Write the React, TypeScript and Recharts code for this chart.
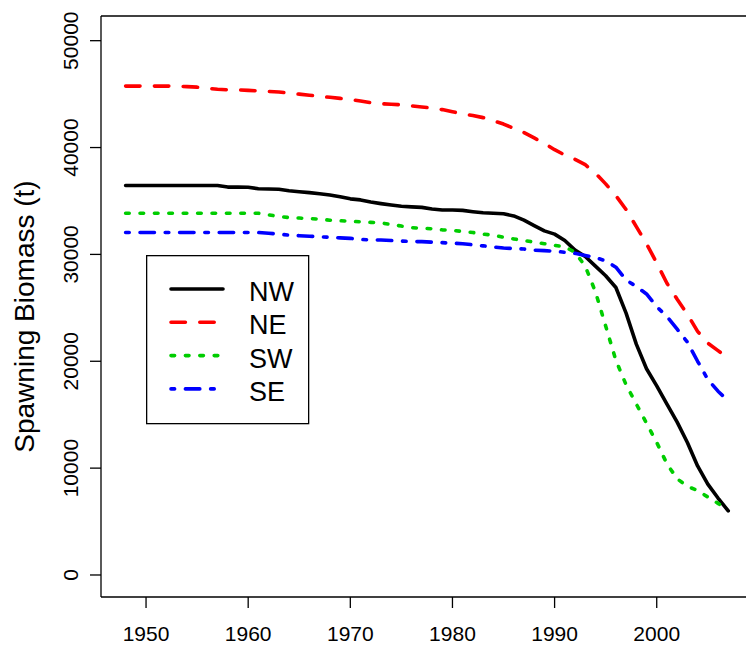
import { LineChart, Line, XAxis, YAxis, ReferenceLine, Legend } from "recharts";

const years = [
  1948, 1949, 1950, 1951, 1952, 1953, 1954, 1955, 1956, 1957, 1958, 1959,
  1960, 1961, 1962, 1963, 1964, 1965, 1966, 1967, 1968, 1969, 1970, 1971,
  1972, 1973, 1974, 1975, 1976, 1977, 1978, 1979, 1980, 1981, 1982, 1983,
  1984, 1985, 1986, 1987, 1988, 1989, 1990, 1991, 1992, 1993, 1994, 1995,
  1996, 1997, 1998, 1999, 2000, 2001, 2002, 2003, 2004, 2005, 2006, 2007,
];

const nw = [
  36450, 36450, 36450, 36450, 36450, 36450, 36450, 36450, 36450, 36450, 36300, 36300,
  36280, 36150, 36120, 36100, 35950, 35870, 35780, 35680, 35560, 35400, 35200, 35100,
  34900, 34750, 34620, 34500, 34450, 34400, 34250, 34150, 34150, 34120, 34000, 33900,
  33850, 33800, 33600, 33200, 32700, 32200, 31900, 31300, 30400, 29800, 28900, 28000,
  26900, 24500, 21600, 19300, 17700, 16000, 14300, 12400, 10200, 8500, 7200, 6000,
];

const ne = [
  45750, 45750, 45750, 45750, 45750, 45750, 45700, 45650, 45550, 45450, 45400, 45400,
  45350, 45300, 45250, 45200, 45100, 45000, 44900, 44800, 44700, 44600, 44500, 44350,
  44200, 44100, 44050, 44000, 43900, 43800, 43700, 43550, 43350, 43150, 43000, 42800,
  42500, 42200, 41800, 41400, 40900, 40400, 39800, 39300, 38900, 38400, 37600, 36600,
  35500, 34200, 32600, 31000, 29200, 27300, 25800, 24400, 22800, 21700, 21000, 20300,
];

const sw = [
  33850, 33850, 33850, 33850, 33850, 33850, 33850, 33850, 33850, 33850, 33850, 33850,
  33850, 33850, 33700, 33550, 33450, 33400, 33350, 33300, 33200, 33150, 33100, 33050,
  33000, 32950, 32800, 32650, 32500, 32450, 32400, 32300, 32250, 32150, 32050, 31900,
  31800, 31600, 31450, 31300, 31150, 31000, 30850, 30700, 30200, 28900, 26500, 23300,
  20100, 17800, 16000, 14200, 12400, 10400, 9000, 8300, 7900, 7300, 6700, 6100,
];

const se = [
  32050, 32050, 32050, 32050, 32050, 32050, 32050, 32050, 32050, 32050, 32050, 32050,
  32050, 32050, 31980, 31900, 31800, 31750, 31700, 31650, 31600, 31550, 31500, 31400,
  31350, 31350, 31300, 31250, 31200, 31200, 31150, 31100, 31050, 31000, 30900, 30800,
  30700, 30600, 30550, 30500, 30400, 30350, 30300, 30200, 30100, 29900, 29700, 29400,
  28800, 27600, 27000, 26300, 25100, 24200, 23000, 21800, 20000, 18300, 17200, 16300,
];

const xTicks = [1950, 1960, 1970, 1980, 1990, 2000];
const yTicks = [0, 10000, 20000, 30000, 40000, 50000];

const series = [
  { key: "NW", color: "#000000", dash: undefined },
  { key: "NE", color: "#FF0000", dash: "14.4 14.4" },
  { key: "SW", color: "#00CD00", dash: "3.6 10.8" },
  { key: "SE", color: "#0000FF", dash: "3.6 10.8 14.4 10.8" },
];

const data = years.map((year, i) => ({
  year,
  NW: nw[i],
  NE: ne[i],
  SW: sw[i],
  SE: se[i],
}));

const FONT = "'Liberation Sans', Arial, Helvetica, sans-serif";
const X_DOMAIN = [1945.59, 2008.74];
const Y_DOMAIN = [-2060, 52310];

const XTick = ({ x, y, payload }: any) => (
  <text x={x} y={y + 31} textAnchor="middle" fontSize={21} fontFamily={FONT} fill="#000">
    {payload.value}
  </text>
);

const YTick = ({ x, y, payload }: any) => (
  <text
    x={x - 10}
    y={y}
    transform={`rotate(-90, ${x - 10}, ${y})`}
    textAnchor="middle"
    fontSize={21}
    fontFamily={FONT}
    fill="#000"
  >
    {payload.value}
  </text>
);

const YLabel = ({ viewBox }: any) => {
  const cx = 33.5;
  const cy = viewBox.y + viewBox.height / 2 + 10;
  return (
    <text
      x={cx}
      y={cy}
      transform={`rotate(-90, ${cx}, ${cy})`}
      textAnchor="middle"
      fontSize={28}
      fontFamily={FONT}
      fill="#000"
    >
      Spawning Biomass (t)
    </text>
  );
};

const LegendBox = () => (
  <svg width={164} height={170} style={{ display: "block" }}>
    <rect x={0.65} y={0.65} width={162} height={168} fill="#fff" stroke="#000" strokeWidth={1.3} />
    {series.map((s, i) => {
      const ly = 34 + i * 33.3;
      return (
        <g key={s.key}>
          <line
            x1={25}
            x2={77}
            y1={ly}
            y2={ly}
            stroke={s.color}
            strokeWidth={3.6}
            strokeDasharray={s.dash}
            strokeLinecap="round"
          />
          <text x={103} y={ly + 12} fontSize={27} fontFamily={FONT} fill="#000">
            {s.key}
          </text>
        </g>
      );
    })}
  </svg>
);

export default function App() {
  return (
    <div style={{ position: "absolute", left: 0, top: 0, width: 746, height: 648, background: "#fff" }}>
      <LineChart
        width={746}
        height={648}
        data={data}
        margin={{ top: 16, right: 0, bottom: 0, left: 0 }}
      >
        <XAxis
          dataKey="year"
          type="number"
          domain={X_DOMAIN}
          allowDataOverflow
          ticks={xTicks}
          tickSize={11}
          height={51}
          axisLine={{ stroke: "#000", strokeWidth: 1.3 }}
          tickLine={{ stroke: "#000", strokeWidth: 1.3 }}
          tick={<XTick />}
          interval={0}
        />
        <YAxis
          type="number"
          domain={Y_DOMAIN}
          allowDataOverflow
          ticks={yTicks}
          tickSize={11}
          width={101}
          axisLine={{ stroke: "#000", strokeWidth: 1.3 }}
          tickLine={{ stroke: "#000", strokeWidth: 1.3 }}
          tick={<YTick />}
          interval={0}
          label={{ content: <YLabel /> }}
        />
        <ReferenceLine y={Y_DOMAIN[1]} stroke="#000" strokeWidth={1.3} />
        <Legend
          layout="horizontal"
          verticalAlign="middle"
          align="center"
          content={<LegendBox />}
          wrapperStyle={{ position: "absolute", left: 146, top: 255, width: 164, height: 170 }}
        />
        {series.map((s) => (
          <Line
            key={s.key}
            dataKey={s.key}
            type="linear"
            stroke={s.color}
            strokeWidth={3.6}
            strokeDasharray={s.dash}
            strokeLinecap="round"
            strokeLinejoin="round"
            dot={false}
            activeDot={false}
            isAnimationActive={false}
          />
        ))}
      </LineChart>
    </div>
  );
}
